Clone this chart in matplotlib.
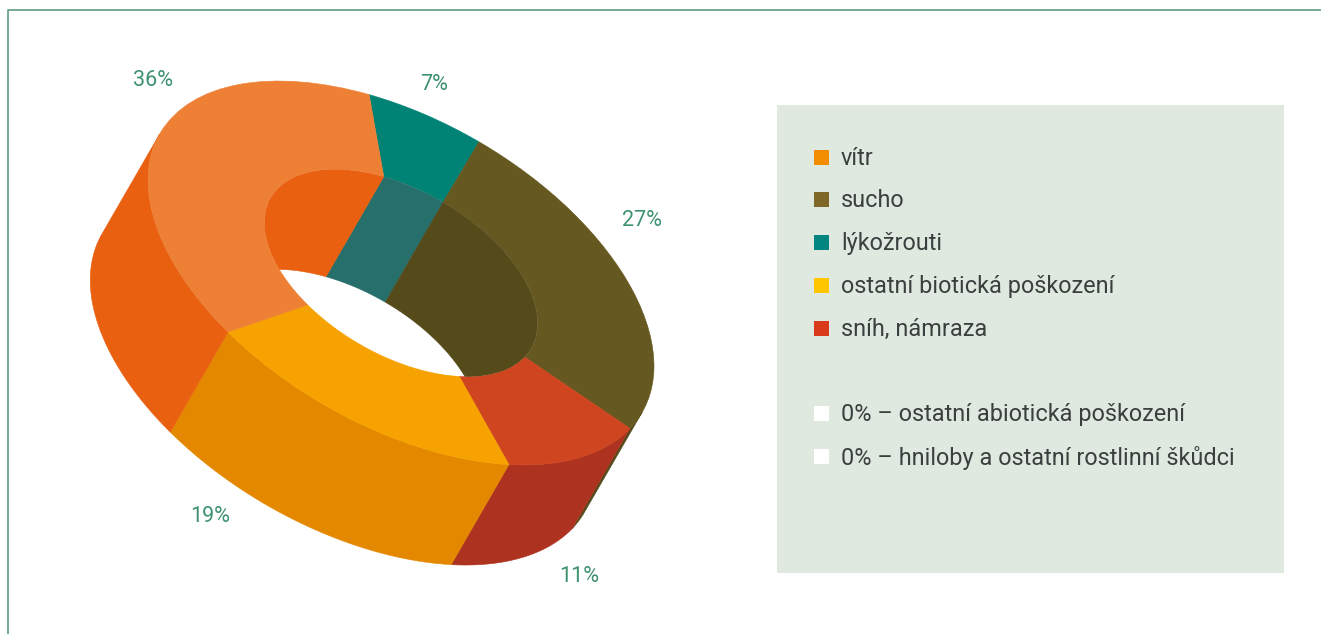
import numpy as np
import matplotlib
matplotlib.use('Agg')
import matplotlib.pyplot as plt
from matplotlib.patches import Wedge, Polygon, Rectangle
from matplotlib.transforms import Affine2D

# ring values, in drawing order going round the ring
names = ['lýkožrouti', 'sucho', 'sníh, námraza', 'ostatní biotická poškození', 'vítr']
values = [7, 27, 11, 19, 36]
top_colors = ['#008375', '#655820', '#CF451F', '#F6A200', '#EE8036']
wall_colors = ['#266F6A', '#554A1A', '#AE3220', '#E48800', '#E96011']

# legend
legend_labels = ['vítr', 'sucho', 'lýkožrouti', 'ostatní biotická poškození', 'sníh, námraza']
legend_colors = ['#F28C00', '#7F6728', '#00857F', '#FFC600', '#D93A1B']
zero_labels = ['0% – ostatní abiotická poškození', '0% – hniloby a ostatní rostlinní škůdci']

start_angle = 245.2
inner_radius = 0.54
depth = 0.757
font = 'Roboto'
label_color = '#3F9270'
text_color = '#3A403E'

fig = plt.figure(figsize=(13.21, 6.34), dpi=100)
ax = fig.add_axes([0, 0, 1, 1])
ax.set_xlim(0, 1321)
ax.set_ylim(634, 0)
ax.axis('off')

# unit circle -> tilted ellipse on the page
ring = Affine2D().scale(278.5, 152.6).rotate_deg(30).translate(401, 273) + ax.transData


def add_wall(radius, t1, t2, lo, hi, color, clip=None):
    """Side of the ring: arc t1-t2 pushed down by depth, only the part seen between lo and hi."""
    for k in (0, 360):
        a, b = max(t1, lo + k), min(t2, hi + k)
        if a >= b:
            continue
        t = np.radians(np.linspace(a, b, 80))
        x, y = radius * np.cos(t), radius * np.sin(t)
        pts = np.column_stack([np.r_[x, x[::-1]], np.r_[y, y[::-1] + depth]])
        wall = Polygon(pts, closed=True, facecolor=color, edgecolor=color, linewidth=0.4, transform=ring)
        ax.add_patch(wall)
        if clip is not None:
            wall.set_clip_path(clip)


edges = start_angle + np.r_[0, np.cumsum(values)] * 3.6

# outer walls, then top faces, then what shows through the hole
for i in range(len(values)):
    add_wall(1, edges[i], edges[i + 1], 0, 180, wall_colors[i])

for i in range(len(values)):
    ax.add_patch(Wedge((0, 0), 1, edges[i], edges[i + 1], width=1 - inner_radius,
                       facecolor=top_colors[i], edgecolor=top_colors[i], linewidth=0.4, transform=ring))

hole = Wedge((0, 0), inner_radius, 0, 360, facecolor='none', edgecolor='none', transform=ring)
ax.add_patch(hole)
for i in range(len(values)):
    add_wall(inner_radius, edges[i], edges[i + 1], 180, 360, wall_colors[i], clip=hole)

# percent labels
label_pos = [(434, 85), (642, 221), (579, 576), (210, 517), (153, 80)]
for v, (x, y) in zip(values, label_pos):
    ax.text(x, y, f'{v}%', color=label_color, fontsize=15.5, family=font, ha='center', va='center')

# legend panel
ax.add_patch(Rectangle((777, 105), 507, 468, facecolor='#DFE9E0', edgecolor='none'))
for label, color, y in zip(legend_labels, legend_colors, [157.5, 199.5, 242.5, 285.5, 328.5]):
    ax.add_patch(Rectangle((814, y - 7.5), 15, 15, facecolor=color, edgecolor='none'))
    ax.text(841, y + 1, label, color=text_color, fontsize=16.9, family=font, ha='left', va='center')
for label, y in zip(zero_labels, [413.5, 456.5]):
    ax.add_patch(Rectangle((814, y - 7.5), 15, 15, facecolor='white', edgecolor='none'))
    ax.text(841, y + 1, label, color=text_color, fontsize=16.9, family=font, ha='left', va='center')

# frame, open on the right and bottom
ax.plot([7.5, 7.5, 1321], [634, 9.5, 9.5], color='#5F9C80', linewidth=1.2)

fig.savefig('out.png', dpi=100)
